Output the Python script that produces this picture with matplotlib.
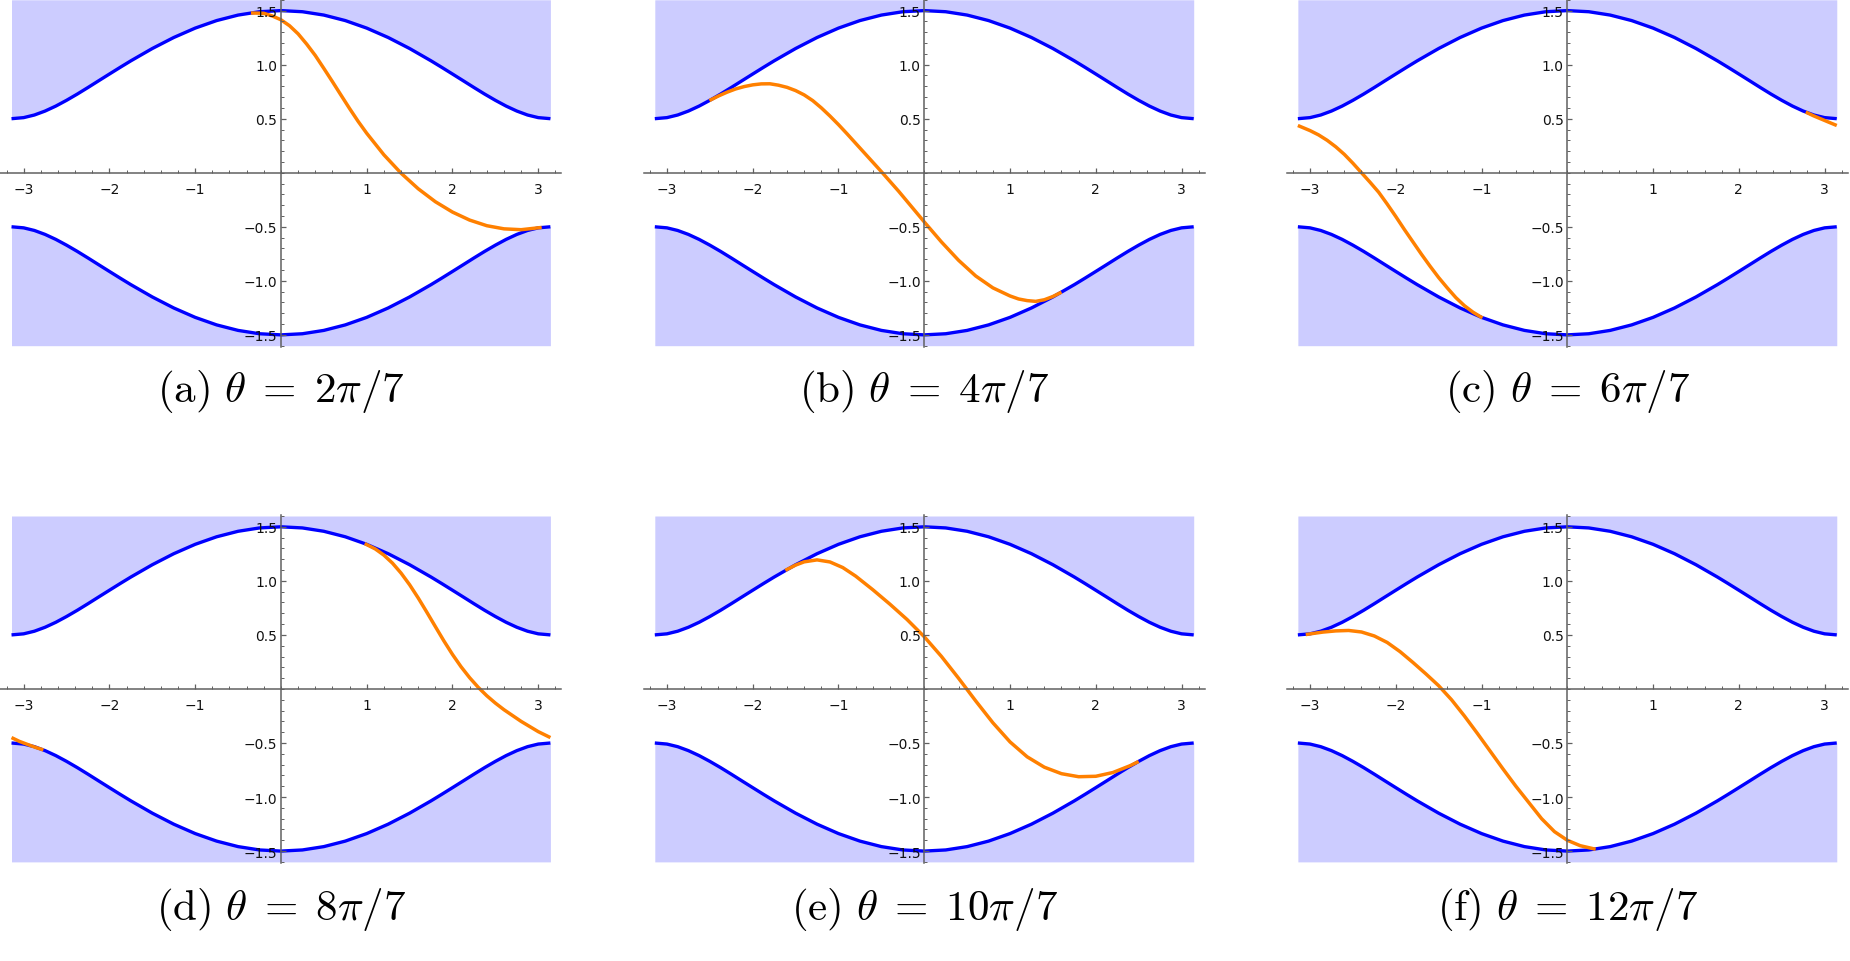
import matplotlib.pyplot as plt
from matplotlib.ticker import MultipleLocator, FixedLocator, FixedFormatter

plt.rcParams['mathtext.fontset'] = 'cm'
plt.rcParams['font.family'] = 'DejaVu Sans'

# band edges (upper edge, lower edge is the mirror image)
band_x = [-3.1416, -3.0, -2.875, -2.75, -2.625, -2.5, -2.375, -2.25, -2.125, -2.0, -1.875,
          -1.75, -1.5, -1.25, -1.0, -0.75, -0.5, -0.25, 0.0,
          0.25, 0.5, 0.75, 1.0, 1.25, 1.5, 1.75, 1.875, 2.0, 2.125, 2.25, 2.375,
          2.5, 2.625, 2.75, 2.875, 3.0, 3.1416]
band_top = [0.5, 0.5099, 0.5341, 0.5707, 0.6167, 0.6700, 0.7276, 0.7886, 0.8511, 0.9132, 0.9749,
            1.0353, 1.1492, 1.2511, 1.3380, 1.4077, 1.4586, 1.4896, 1.5,
            1.4896, 1.4586, 1.4077, 1.3380, 1.2511, 1.1492, 1.0353, 0.9749, 0.9132, 0.8511, 0.7886, 0.7276,
            0.6700, 0.6167, 0.5707, 0.5341, 0.5099, 0.5]
band_bot = [-v for v in band_top]

# orange curves
a_x = [-0.35, -0.2, -0.1, 0.0, 0.1, 0.2, 0.3, 0.4, 0.5, 0.6, 0.7, 0.8, 0.9, 1.0, 1.2, 1.4,
       1.6, 1.8, 2.0, 2.2, 2.4, 2.6, 2.8, 3.04]
a_y = [1.478, 1.475, 1.45, 1.415, 1.36, 1.285, 1.19, 1.085, 0.965, 0.843, 0.718, 0.594, 0.475,
       0.365, 0.166, -0.004, -0.148, -0.268, -0.364, -0.438, -0.490, -0.519, -0.527, -0.506]

b_x = [-2.505, -2.4, -2.3, -2.2, -2.1, -2.0, -1.9, -1.8, -1.7, -1.6, -1.5, -1.4, -1.3, -1.2, -1.1, -1.0,
       -0.9, -0.7, -0.5, -0.3, -0.1, 0.0, 0.2, 0.4, 0.6, 0.8, 1.0, 1.1, 1.2, 1.3, 1.4, 1.5, 1.6]
b_y = [0.668, 0.71, 0.745, 0.775, 0.797, 0.813, 0.822, 0.823, 0.81, 0.79, 0.76, 0.72, 0.667, 0.60, 0.525,
       0.445, 0.36, 0.185, 0.01, -0.17, -0.36, -0.455, -0.64, -0.81, -0.955, -1.065, -1.14, -1.168,
       -1.183, -1.19, -1.175, -1.145, -1.105]

c_x1 = [-3.1416, -3.0, -2.9, -2.8, -2.7, -2.6, -2.5, -2.4, -2.3, -2.2, -2.1, -2.0, -1.9, -1.8, -1.7,
        -1.6, -1.5, -1.4, -1.3, -1.2, -1.1, -0.99]
c_y1 = [0.437, 0.39, 0.35, 0.30, 0.24, 0.17, 0.088, 0.0, -0.088, -0.18, -0.29, -0.405, -0.525, -0.64,
        -0.755, -0.865, -0.97, -1.065, -1.155, -1.23, -1.29, -1.343]
c_x2 = [2.78, 2.87, 2.96, 3.05, 3.1416]
c_y2 = [0.561, 0.527, 0.497, 0.467, 0.437]

d_x1 = [0.976, 1.1, 1.2, 1.3, 1.4, 1.5, 1.6, 1.7, 1.8, 1.9, 2.0, 2.1, 2.2, 2.3, 2.4, 2.5, 2.6, 2.8,
        3.0, 3.1416]
d_y1 = [1.345, 1.295, 1.238, 1.164, 1.072, 0.964, 0.842, 0.711, 0.577, 0.444, 0.319, 0.205, 0.104,
        0.015, -0.063, -0.131, -0.192, -0.30, -0.395, -0.45]
d_x2 = [-3.1416, -3.05, -2.95, -2.86, -2.77]
d_y2 = [-0.45, -0.485, -0.515, -0.541, -0.564]

e_x = [-1.62, -1.5, -1.4, -1.25, -1.1, -0.95, -0.8, -0.6, -0.4, -0.2, 0.0, 0.2, 0.4, 0.6, 0.8,
       1.0, 1.2, 1.4, 1.6, 1.8, 2.0, 2.2, 2.4, 2.5]
e_y = [1.097, 1.146, 1.176, 1.194, 1.175, 1.123, 1.044, 0.918, 0.784, 0.642, 0.483, 0.301, 0.099,
       -0.111, -0.313, -0.49, -0.628, -0.724, -0.784, -0.812, -0.808, -0.773, -0.71, -0.671]

f_x = [-3.05, -2.95, -2.85, -2.7, -2.55, -2.4, -2.25, -2.1, -1.95, -1.8, -1.65, -1.5, -1.35, -1.2,
       -1.05, -0.9, -0.75, -0.6, -0.45, -0.3, -0.15, 0.0, 0.15, 0.33]
f_y = [0.503, 0.515, 0.526, 0.537, 0.541, 0.527, 0.49, 0.43, 0.345, 0.245, 0.14, 0.03, -0.10, -0.25,
       -0.41, -0.575, -0.74, -0.90, -1.05, -1.20, -1.32, -1.40, -1.45, -1.483]

curves = [
    [(a_x, a_y)],
    [(b_x, b_y)],
    [(c_x1, c_y1), (c_x2, c_y2)],
    [(d_x1, d_y1), (d_x2, d_y2)],
    [(e_x, e_y)],
    [(f_x, f_y)],
]
captions = [r'$\mathrm{(a)}\ \theta\;=\;2\pi/7$', r'$\mathrm{(b)}\ \theta\;=\;4\pi/7$',
            r'$\mathrm{(c)}\ \theta\;=\;6\pi/7$', r'$\mathrm{(d)}\ \theta\;=\;8\pi/7$',
            r'$\mathrm{(e)}\ \theta\;=\;10\pi/7$', r'$\mathrm{(f)}\ \theta\;=\;12\pi/7$']

xticks = [-3, -2, -1, 1, 2, 3]
xticklabels = ['\u22123', '\u22122', '\u22121', '1', '2', '3']
yticks = [-1.5, -1.0, -0.5, 0.5, 1.0, 1.5]
yticklabels = ['\u22121.5', '\u22121.0', '\u22120.5', '0.5', '1.0', '1.5']

shade = '#ccccff'
blue = '#0000ff'
orange = '#ff8000'
axcol = '#606060'

fig = plt.figure(figsize=(18.5, 9.62), dpi=100)

lefts = [0.00027, 0.348, 0.6956]
bottoms = [0.6385, 0.1019]
w, h = 0.3032, 0.3618
cap_x = [0.1519, 0.4996, 0.8472]
cap_y = [0.582, 0.044]

for i in range(6):
    r, c = divmod(i, 3)
    ax = fig.add_axes([lefts[c], bottoms[r], w, h])
    ax.set_xlim(-3.27, 3.27)
    ax.set_ylim(-1.61, 1.61)

    ax.fill_between(band_x, band_top, 1.6, color=shade, lw=0, zorder=0)
    ax.fill_between(band_x, -1.6, band_bot, color=shade, lw=0, zorder=0)
    ax.plot(band_x, band_top, color=blue, lw=2.4, solid_capstyle='butt', zorder=1)
    ax.plot(band_x, band_bot, color=blue, lw=2.4, solid_capstyle='butt', zorder=1)
    for xs, ys in curves[i]:
        ax.plot(xs, ys, color=orange, lw=2.5, solid_capstyle='butt', zorder=2)

    ax.set_axisbelow(False)
    for s in ['top', 'right']:
        ax.spines[s].set_visible(False)
    ax.spines['left'].set_position('zero')
    ax.spines['bottom'].set_position('zero')
    for s in ['left', 'bottom']:
        ax.spines[s].set_color(axcol)
        ax.spines[s].set_linewidth(1.1)
        ax.spines[s].set_zorder(3)
    ax.patch.set_visible(False)

    ax.xaxis.set_major_locator(FixedLocator(xticks))
    ax.xaxis.set_major_formatter(FixedFormatter(xticklabels))
    ax.yaxis.set_major_locator(FixedLocator(yticks))
    ax.yaxis.set_major_formatter(FixedFormatter(yticklabels))
    ax.xaxis.set_minor_locator(MultipleLocator(0.2))
    ax.yaxis.set_minor_locator(MultipleLocator(0.1))
    ax.tick_params(which='major', direction='in', length=3.5, width=0.9, color=axcol,
                   labelsize=10, labelcolor='#111111')
    ax.tick_params(which='minor', direction='in', length=2.0, width=0.7, color=axcol)
    ax.tick_params(axis='x', which='major', pad=6.5)
    ax.tick_params(axis='y', which='major', pad=2.5)

    fig.text(cap_x[c], cap_y[r], captions[i], ha='center', va='baseline', fontsize=31)

fig.savefig('out.png', dpi=100)
